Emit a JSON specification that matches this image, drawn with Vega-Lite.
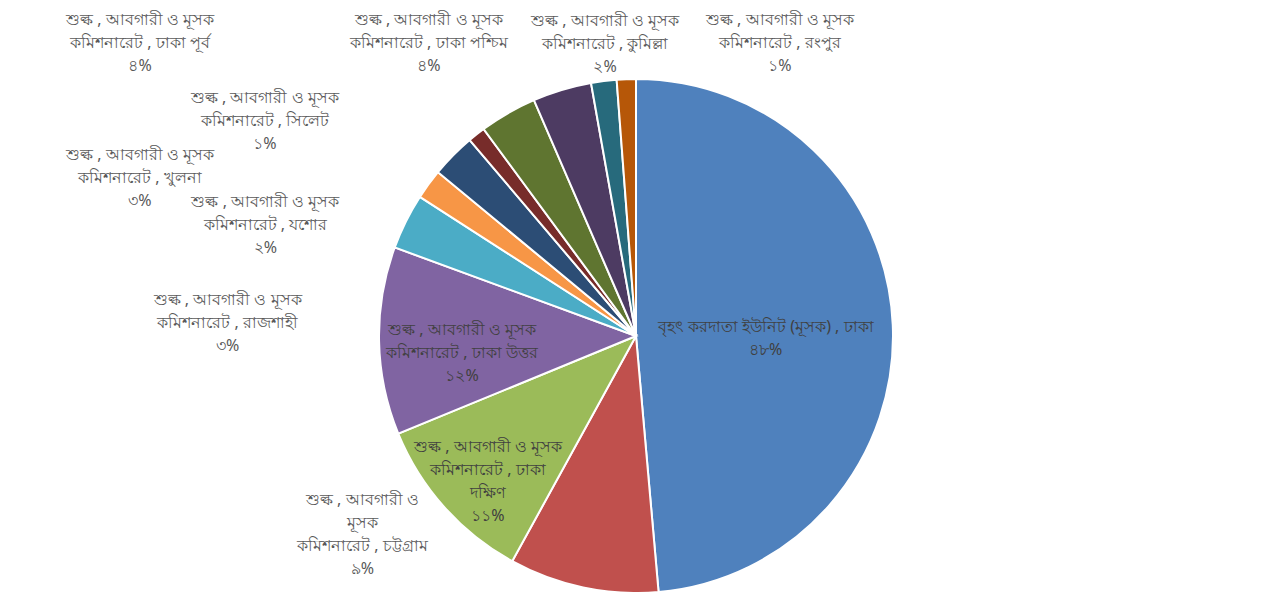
{
  "$schema": "https://vega.github.io/schema/vega-lite/v6.json",
  "width": 1272,
  "height": 512,
  "autosize": {"type": "none"},
  "padding": {"left": 0, "top": 80, "right": 11, "bottom": 0},
  "background": "white",
  "config": {"view": {"stroke": null}, "text": {"font": "Noto Sans", "fontSize": 16, "lineHeight": 23, "color": "#595959", "align": "center", "baseline": "middle"}},
  "data": {
    "values": [
      {"idx": 1, "unit": "বৃহৎ করদাতা ইউনিট (মূসক), ঢাকা", "share": 48.6, "label": ["বৃহৎ করদাতা ইউনিট (মূসক) , ঢাকা", "৪৮%"]},
      {"idx": 2, "unit": "চট্টগ্রাম", "share": 9.4, "label": ["শুল্ক , আবগারী ও", "মূসক", "কমিশনারেট , চট্টগ্রাম", "৯%"]},
      {"idx": 3, "unit": "ঢাকা দক্ষিণ", "share": 10.8, "label": ["শুল্ক , আবগারী ও মূসক", "কমিশনারেট , ঢাকা", "দক্ষিণ", "১১%"]},
      {"idx": 4, "unit": "ঢাকা উত্তর", "share": 11.8, "label": ["শুল্ক , আবগারী ও মূসক", "কমিশনারেট , ঢাকা উত্তর", "১২%"]},
      {"idx": 5, "unit": "রাজশাহী", "share": 3.5, "label": ["শুল্ক , আবগারী ও মূসক", "কমিশনারেট , রাজশাহী", "৩%"]},
      {"idx": 6, "unit": "যশোর", "share": 1.9, "label": ["শুল্ক , আবগারী ও মূসক", "কমিশনারেট , যশোর", "২%"]},
      {"idx": 7, "unit": "খুলনা", "share": 2.8, "label": ["শুল্ক , আবগারী ও মূসক", "কমিশনারেট , খুলনা", "৩%"]},
      {"idx": 8, "unit": "সিলেট", "share": 1.1, "label": ["শুল্ক , আবগারী ও মূসক", "কমিশনারেট , সিলেট", "১%"]},
      {"idx": 9, "unit": "ঢাকা পূর্ব", "share": 3.6, "label": ["শুল্ক , আবগারী ও মূসক", "কমিশনারেট , ঢাকা পূর্ব", "৪%"]},
      {"idx": 10, "unit": "ঢাকা পশ্চিম", "share": 3.7, "label": ["শুল্ক , আবগারী ও মূসক", "কমিশনারেট , ঢাকা পশ্চিম", "৪%"]},
      {"idx": 11, "unit": "কুমিল্লা", "share": 1.6, "label": ["শুল্ক , আবগারী ও মূসক", "কমিশনারেট , কুমিল্লা", "২%"]},
      {"idx": 12, "unit": "রংপুর", "share": 1.2, "label": ["শুল্ক , আবগারী ও মূসক", "কমিশনারেট , রংপুর", "১%"]}
    ]
  },
  "transform": [
    {"stack": "share", "groupby": [], "sort": [{"field": "idx", "order": "ascending"}], "as": ["s0", "s1"]}
  ],
  "layer": [
    {
      "mark": {"type": "arc", "outerRadius": 257, "stroke": "white", "strokeWidth": 2},
      "encoding": {
        "theta": {"field": "s0", "type": "quantitative", "scale": {"domain": [0, 100]}},
        "theta2": {"field": "s1"},
        "color": {
          "field": "unit", "type": "nominal", "legend": null,
          "scale": {
            "domain": ["বৃহৎ করদাতা ইউনিট (মূসক), ঢাকা", "চট্টগ্রাম", "ঢাকা দক্ষিণ", "ঢাকা উত্তর", "রাজশাহী", "যশোর", "খুলনা", "সিলেট", "ঢাকা পূর্ব", "ঢাকা পশ্চিম", "কুমিল্লা", "রংপুর"],
            "range": ["#4F81BD", "#C0504D", "#9BBB59", "#8064A2", "#4BACC6", "#F79646", "#2C4D75", "#772C2A", "#5F7530", "#4D3B62", "#276A7C", "#B65708"]
          }
        }
      }
    },
    {"transform": [{"filter": "datum.idx == 1"}], "mark": {"type": "text", "radius": 130, "thetaOffset": 1.5017, "color": "#404040"}, "encoding": {"theta": {"field": "s0", "type": "quantitative", "scale": {"domain": [0, 100]}}, "text": {"field": "label"}}},
    {"transform": [{"filter": "datum.idx == 2"}], "mark": {"type": "text", "radius": 319, "thetaOffset": 1.1193}, "encoding": {"theta": {"field": "s0", "type": "quantitative", "scale": {"domain": [0, 100]}}, "text": {"field": "label"}}},
    {"transform": [{"filter": "datum.idx == 3"}], "mark": {"type": "text", "radius": 185, "thetaOffset": 0.4246, "color": "#404040"}, "encoding": {"theta": {"field": "s0", "type": "quantitative", "scale": {"domain": [0, 100]}}, "text": {"field": "label"}}},
    {"transform": [{"filter": "datum.idx == 4"}], "mark": {"type": "text", "radius": 174, "thetaOffset": 0.4239, "color": "#404040"}, "encoding": {"theta": {"field": "s0", "type": "quantitative", "scale": {"domain": [0, 100]}}, "text": {"field": "label"}}},
    {"transform": [{"filter": "datum.idx == 5"}], "mark": {"type": "text", "radius": 410, "thetaOffset": -0.2639}, "encoding": {"theta": {"field": "s0", "type": "quantitative", "scale": {"domain": [0, 100]}}, "text": {"field": "label"}}},
    {"transform": [{"filter": "datum.idx == 6"}], "mark": {"type": "text", "radius": 394, "thetaOffset": -0.2251}, "encoding": {"theta": {"field": "s0", "type": "quantitative", "scale": {"domain": [0, 100]}}, "text": {"field": "label"}}},
    {"transform": [{"filter": "datum.idx == 7"}], "mark": {"type": "text", "radius": 528, "thetaOffset": -0.3414}, "encoding": {"theta": {"field": "s0", "type": "quantitative", "scale": {"domain": [0, 100]}}, "text": {"field": "label"}}},
    {"transform": [{"filter": "datum.idx == 8"}], "mark": {"type": "text", "radius": 441, "thetaOffset": -0.2967}, "encoding": {"theta": {"field": "s0", "type": "quantitative", "scale": {"domain": [0, 100]}}, "text": {"field": "label"}}},
    {"transform": [{"filter": "datum.idx == 9"}], "mark": {"type": "text", "radius": 588, "thetaOffset": -0.3690}, "encoding": {"theta": {"field": "s0", "type": "quantitative", "scale": {"domain": [0, 100]}}, "text": {"field": "label"}}},
    {"transform": [{"filter": "datum.idx == 10"}], "mark": {"type": "text", "radius": 378, "thetaOffset": -0.1716}, "encoding": {"theta": {"field": "s0", "type": "quantitative", "scale": {"domain": [0, 100]}}, "text": {"field": "label"}}},
    {"transform": [{"filter": "datum.idx == 11"}], "mark": {"type": "text", "radius": 317, "thetaOffset": 0.0782}, "encoding": {"theta": {"field": "s0", "type": "quantitative", "scale": {"domain": [0, 100]}}, "text": {"field": "label"}}},
    {"transform": [{"filter": "datum.idx == 12"}], "mark": {"type": "text", "radius": 347, "thetaOffset": 0.5030}, "encoding": {"theta": {"field": "s0", "type": "quantitative", "scale": {"domain": [0, 100]}}, "text": {"field": "label"}}}
  ]
}
